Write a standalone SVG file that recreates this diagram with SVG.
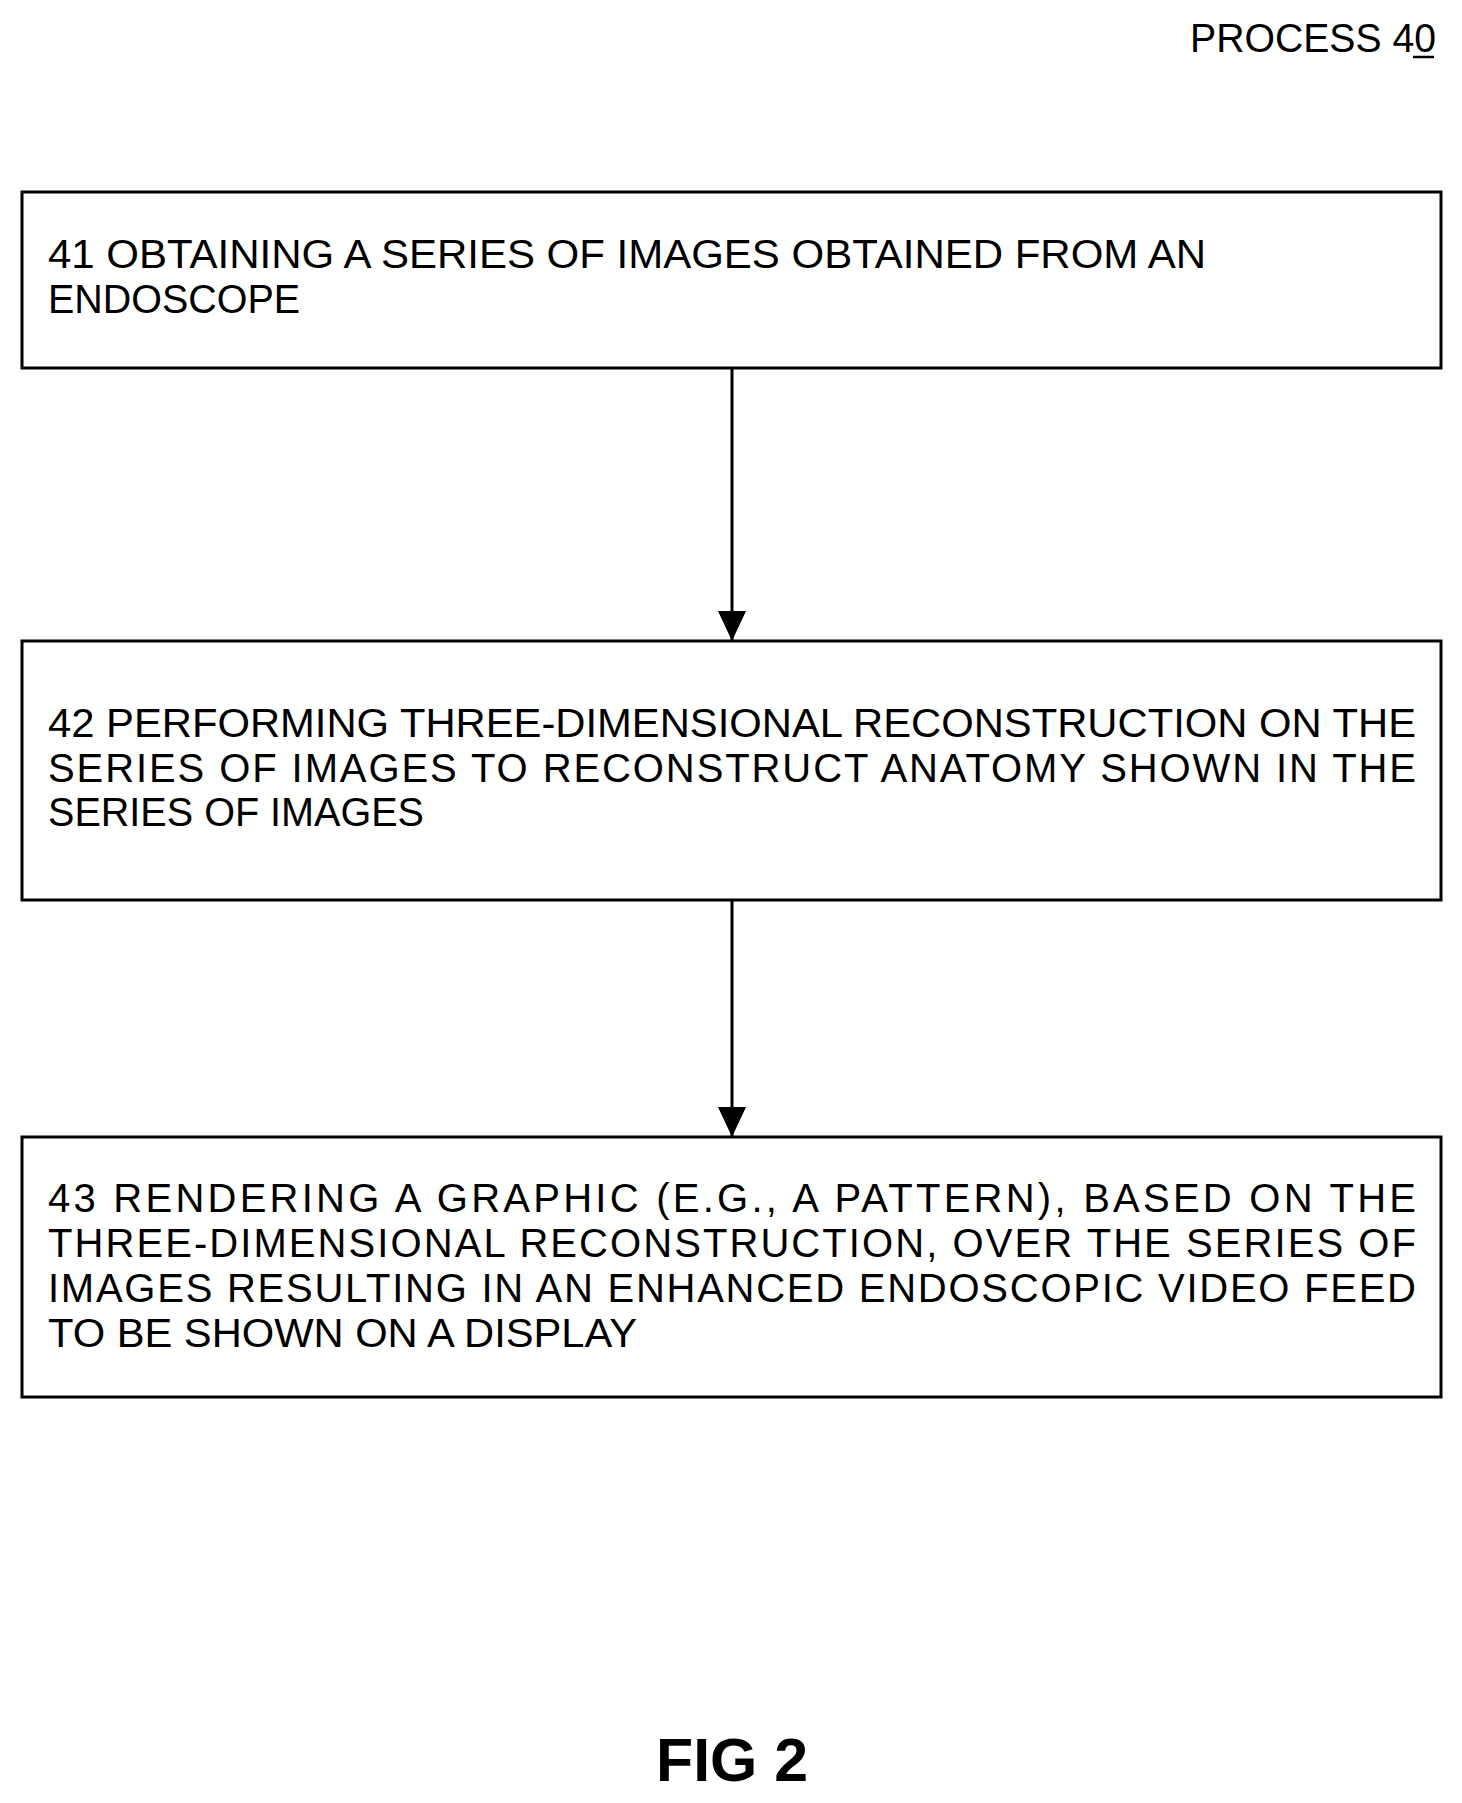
<svg xmlns="http://www.w3.org/2000/svg" width="1462" height="1803" viewBox="0 0 1462 1803">
<style>
rect{fill:#fff;stroke:#000;stroke-width:3}
text{font-family:"Liberation Sans",Arial,sans-serif;font-size:40px;fill:#000}
.c{stroke:#000;stroke-width:3;fill:none}
</style>
<defs><marker id="ah" markerWidth="28" markerHeight="30" refX="30" refY="14" orient="auto" markerUnits="userSpaceOnUse"><path d="M0,0L30,14L0,28z" fill="#000"/></marker></defs>
<rect width="1462" height="1803" style="stroke:none"/>
<text x="1190" y="52" textLength="246" lengthAdjust="spacingAndGlyphs">PROCESS 40</text>
<line x1="1413" y1="57" x2="1434" y2="57" stroke="#000" stroke-width="2.5"/>
<g id="connectors">
<line class="c" x1="732" y1="368" x2="732" y2="641" marker-end="url(#ah)"/>
<line class="c" x1="732" y1="900" x2="732" y2="1137" marker-end="url(#ah)"/>
</g>
<g id="n41"><rect x="22" y="192" width="1419" height="176"/>
<text x="48" y="268" textLength="1158" lengthAdjust="spacingAndGlyphs">41 OBTAINING A SERIES OF IMAGES OBTAINED FROM AN</text>
<text x="48" y="313" textLength="252" lengthAdjust="spacingAndGlyphs">ENDOSCOPE</text></g>
<g id="n42"><rect x="22" y="641" width="1419" height="259"/>
<text x="48" y="737" textLength="1368" lengthAdjust="spacingAndGlyphs">42 PERFORMING THREE-DIMENSIONAL RECONSTRUCTION ON THE</text>
<text x="48" y="782" textLength="1368" lengthAdjust="spacing">SERIES OF IMAGES TO RECONSTRUCT ANATOMY SHOWN IN THE</text>
<text x="48" y="826" textLength="376" lengthAdjust="spacingAndGlyphs">SERIES OF IMAGES</text></g>
<g id="n43"><rect x="22" y="1137" width="1419" height="260"/>
<text x="48" y="1212" textLength="1368" lengthAdjust="spacing">43 RENDERING A GRAPHIC (E.G., A PATTERN), BASED ON THE</text>
<text x="48" y="1257" textLength="1368" lengthAdjust="spacing">THREE-DIMENSIONAL RECONSTRUCTION, OVER THE SERIES OF</text>
<text x="48" y="1302" textLength="1368" lengthAdjust="spacing">IMAGES RESULTING IN AN ENHANCED ENDOSCOPIC VIDEO FEED</text>
<text x="48" y="1347" textLength="589" lengthAdjust="spacingAndGlyphs">TO BE SHOWN ON A DISPLAY</text></g>
<text x="732" y="1781" text-anchor="middle" style="font-size:62px;font-weight:bold" textLength="152" lengthAdjust="spacingAndGlyphs">FIG 2</text>
</svg>
